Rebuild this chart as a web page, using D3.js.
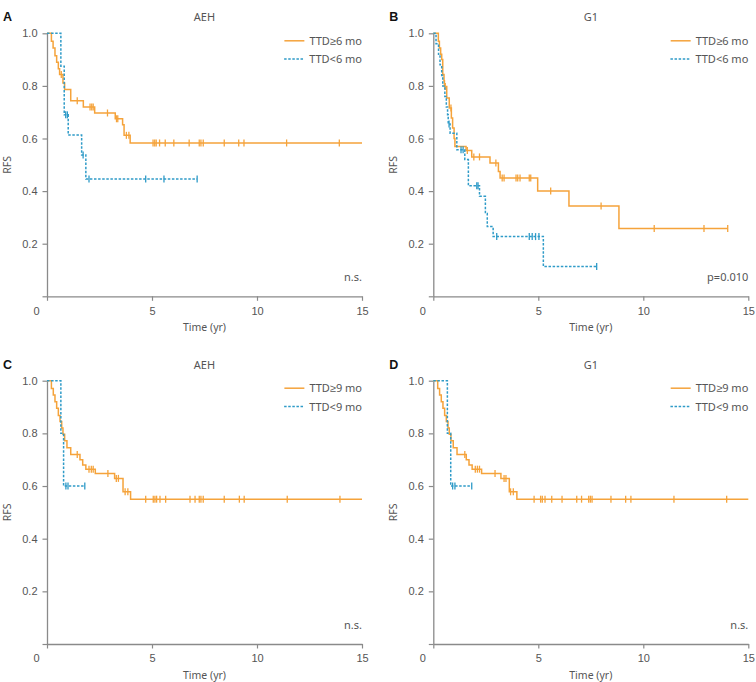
<!DOCTYPE html>
<html><head><meta charset="utf-8">
<script src="https://cdn.jsdelivr.net/npm/d3@7"></script>
<style>
body{margin:0;background:#fff;}
svg{display:block;}
</style></head>
<body><svg id="c" width="756" height="682"></svg>
<script>
// ---------- data ----------
const xTicks = [0, 5, 10, 15];
const yTicks = [0, 0.2, 0.4, 0.6, 0.8, 1.0];
const panelLetters = ["A", "B", "C", "D"];
const panelTitles = ["AEH", "G1", "AEH", "G1"];
const legendHigh = ["TTD\u22656 mo", "TTD\u22656 mo", "TTD\u22659 mo", "TTD\u22659 mo"];
const legendLow = ["TTD<6 mo", "TTD<6 mo", "TTD<9 mo", "TTD<9 mo"];
const pLabels = ["n.s.", "p=0.010", "n.s.", "n.s."];

// Panel A
const aHighTime = [0.21, 0.29, 0.38, 0.46, 0.54, 0.6, 0.76, 0.84, 1.13, 1.73, 2.27, 3.25, 3.6, 3.67, 3.96];
const aHighSurv = [0.97, 0.944, 0.915, 0.89, 0.865, 0.843, 0.811, 0.786, 0.744, 0.72, 0.697, 0.675, 0.652, 0.612, 0.583];
const aHighCensor = [0.68, 1.44, 2.05, 2.13, 2.2, 2.88, 3.31, 3.37, 3.78, 3.9, 5.05, 5.13, 5.2, 5.36, 5.63, 6.04, 6.77, 7.25, 7.33, 7.44, 8.44, 9.13, 9.38, 11.41, 13.92];
const aHighEnd = 15;
const aLowTime = [0.66, 0.82, 1.01, 1.65, 1.85];
const aLowSurv = [0.875, 0.69, 0.613, 0.537, 0.446];
const aLowCensor = [0.89, 0.97, 1.72, 2.0, 4.7, 5.57, 7.15];
const aLowEnd = 7.15;

// Panel B
const bHighTime = [0.24, 0.29, 0.35, 0.4, 0.45, 0.51, 0.53, 0.64, 0.76, 0.86, 0.92, 0.99, 1.03, 1.56, 1.83, 2.7, 3.1, 3.18, 4.97, 6.46, 8.84];
const bHighSurv = [0.97, 0.944, 0.92, 0.9, 0.843, 0.82, 0.798, 0.754, 0.716, 0.678, 0.64, 0.6, 0.57, 0.554, 0.53, 0.507, 0.475, 0.45, 0.4, 0.343, 0.258];
const bHighCensor = [0.57, 0.84, 1.62, 1.93, 2.2, 2.98, 3.28, 3.37, 3.94, 4.02, 4.13, 4.57, 4.64, 5.59, 7.99, 10.52, 12.89, 14.02];
const bHighEnd = 14.02;
const bLowTime = [0.13, 0.25, 0.32, 0.4, 0.45, 0.55, 0.62, 0.68, 0.71, 0.8, 1.12, 1.5, 1.67, 2.2, 2.48, 2.57, 2.85, 5.24];
const bLowSurv = [0.96, 0.92, 0.88, 0.84, 0.8, 0.76, 0.72, 0.69, 0.655, 0.62, 0.557, 0.52, 0.42, 0.38, 0.315, 0.265, 0.227, 0.113];
const bLowCensor = [0.75, 1.32, 1.42, 2.07, 2.13, 3.02, 4.57, 4.71, 4.87, 5.03, 7.78];
const bLowEnd = 7.78;

// Panel C
const cHighTime = [0.21, 0.3, 0.38, 0.46, 0.54, 0.62, 0.7, 0.76, 0.84, 0.95, 1.13, 1.57, 1.7, 1.85, 2.3, 3.22, 3.62, 3.98];
const cHighSurv = [0.97, 0.946, 0.92, 0.895, 0.868, 0.845, 0.82, 0.797, 0.772, 0.745, 0.72, 0.7, 0.68, 0.664, 0.648, 0.629, 0.578, 0.55];
const cHighCensor = [1.44, 2.0, 2.11, 2.2, 2.9, 3.3, 3.4, 3.72, 3.85, 4.7, 5.06, 5.14, 5.22, 5.38, 5.65, 6.81, 7.05, 7.25, 7.33, 7.44, 8.44, 9.16, 9.39, 11.44, 13.95];
const cHighEnd = 15;
const cLowTime = [0.66, 0.79];
const cLowSurv = [0.8, 0.6];
const cLowCensor = [0.9, 1.0, 1.8];
const cLowEnd = 1.8;

// Panel D
const dHighTime = [0.21, 0.3, 0.38, 0.46, 0.54, 0.62, 0.7, 0.76, 0.84, 0.95, 1.13, 1.57, 1.7, 1.85, 2.3, 3.22, 3.62, 3.98];
const dHighSurv = [0.97, 0.946, 0.92, 0.895, 0.868, 0.845, 0.82, 0.797, 0.772, 0.745, 0.72, 0.7, 0.68, 0.664, 0.648, 0.629, 0.578, 0.55];
const dHighCensor = [1.5, 2.0, 2.1, 2.2, 2.94, 3.37, 3.46, 3.68, 3.81, 4.8, 5.11, 5.19, 5.32, 5.64, 6.13, 6.83, 7.06, 7.4, 7.48, 7.56, 8.46, 9.16, 9.41, 11.46, 13.97];
const dHighEnd = 15;
const dLowTime = [0.67, 0.83];
const dLowSurv = [0.8, 0.6];
const dLowCensor = [0.92, 1.03, 1.83];
const dLowEnd = 1.83;

// ---------- layout ----------
const COL_ORANGE = "#f5a33b";
const COL_BLUE = "#2f9bc8";
const AXIS_COL = "#8a8a8a";
const TEXT_COL = "#555";

const panels = [
  {x0: 47, x1: 362, yTop: 33.3, yBot: 296.3,
   high: {t: aHighTime, s: aHighSurv, c: aHighCensor, end: aHighEnd},
   low: {t: aLowTime, s: aLowSurv, c: aLowCensor, end: aLowEnd}},
  {x0: 433.3, x1: 748.3, yTop: 33.3, yBot: 296.3,
   high: {t: bHighTime, s: bHighSurv, c: bHighCensor, end: bHighEnd},
   low: {t: bLowTime, s: bLowSurv, c: bLowCensor, end: bLowEnd}},
  {x0: 47, x1: 362, yTop: 380.7, yBot: 644,
   high: {t: cHighTime, s: cHighSurv, c: cHighCensor, end: cHighEnd},
   low: {t: cLowTime, s: cLowSurv, c: cLowCensor, end: cLowEnd}},
  {x0: 433.3, x1: 748.3, yTop: 380.7, yBot: 644,
   high: {t: dHighTime, s: dHighSurv, c: dHighCensor, end: dHighEnd},
   low: {t: dLowTime, s: dLowSurv, c: dLowCensor, end: dLowEnd}}
];

const svg = d3.select("#c");
const tickFont = "'Liberation Sans', Arial, sans-serif";
const labFont = "'Noto Sans', 'Liberation Sans', sans-serif";

function survAt(curve, time) {
  let v = 1;
  for (let i = 0; i < curve.t.length; i++) if (curve.t[i] <= time) v = curve.s[i];
  return v;
}

panels.forEach((p, i) => {
  const g = svg.append("g");
  const x = d3.scaleLinear().domain([0, 15]).range([p.x0, p.x1]);
  const y = d3.scaleLinear().domain([0, 1]).range([p.yBot, p.yTop]);

  // y axis
  const ya = g.append("g").attr("transform", `translate(${p.x0},0)`)
    .call(d3.axisLeft(y).tickValues(yTicks).tickSize(4.5).tickSizeOuter(0).tickPadding(5)
      .tickFormat(d => d === 0 ? "" : d3.format(".1f")(d)));
  // x axis
  const xa = g.append("g").attr("transform", `translate(0,${p.yBot})`)
    .call(d3.axisBottom(x).tickValues(xTicks).tickSize(4.5).tickSizeOuter(0).tickPadding(6)
      .tickFormat(d3.format("d")));
  [ya, xa].forEach(a => {
    a.select(".domain").attr("stroke", AXIS_COL).attr("stroke-width", 1.3);
    a.selectAll(".tick line").attr("stroke", AXIS_COL).attr("stroke-width", 1.2);
    a.selectAll(".tick text").attr("fill", TEXT_COL).style("font-family", tickFont).style("font-size", "11px");
  });
  xa.selectAll(".tick text").filter(d => d === 0).attr("dx", -11);

  // axis titles
  g.append("text").attr("x", (p.x0 + p.x1) / 2).attr("y", p.yBot + 35)
    .attr("text-anchor", "middle").attr("fill", TEXT_COL)
    .style("font-family", labFont).style("font-size", "10.5px").text("Time (yr)");
  g.append("text").attr("transform", `translate(${p.x0 - 36},${(p.yTop + p.yBot) / 2}) rotate(-90)`)
    .attr("text-anchor", "middle").attr("fill", TEXT_COL)
    .style("font-family", labFont).style("font-size", "10.5px").text("RFS");

  // panel letter & title
  g.append("text").attr("x", p.x0 - 44).attr("y", p.yTop - 12)
    .attr("fill", "#111").style("font-family", tickFont).style("font-weight", "bold").style("font-size", "12.5px")
    .text(panelLetters[i]);
  g.append("text").attr("x", (p.x0 + p.x1) / 2).attr("y", p.yTop - 12)
    .attr("text-anchor", "middle").attr("fill", TEXT_COL)
    .style("font-family", labFont).style("font-size", "11px").text(panelTitles[i]);

  // curves
  const line = d3.line().x(d => x(d[0])).y(d => y(d[1])).curve(d3.curveStepAfter);
  const drawCurve = (curve, color, dash) => {
    const pts = [[0, 1]];
    curve.t.forEach((t, k) => pts.push([t, curve.s[k]]));
    pts.push([curve.end, curve.s[curve.s.length - 1]]);
    g.append("path").datum(pts).attr("d", line).attr("fill", "none")
      .attr("stroke", color).attr("stroke-width", 1.5)
      .attr("stroke-dasharray", dash || null);
    g.append("g").selectAll("line").data(curve.c).join("line")
      .attr("x1", d => x(d)).attr("x2", d => x(d))
      .attr("y1", d => y(survAt(curve, d)) - 3.5).attr("y2", d => y(survAt(curve, d)) + 3.5)
      .attr("stroke", color).attr("stroke-width", 1.3);
  };
  drawCurve(p.high, COL_ORANGE, null);
  drawCurve(p.low, COL_BLUE, "2.5,1.6");

  // legend
  const rows = [[legendHigh[i], COL_ORANGE, null], [legendLow[i], COL_BLUE, "2.5,1.6"]];
  rows.forEach((r, k) => {
    const yy = p.yTop + 7.5 + k * 18.3;
    const t = g.append("text").attr("x", p.x1).attr("y", yy + 4).attr("text-anchor", "end")
      .attr("fill", TEXT_COL).style("font-family", labFont).style("font-size", "11px").text(r[0]);
    const w = t.node().getComputedTextLength();
    g.append("line").attr("x1", p.x1 - w - 25).attr("x2", p.x1 - w - 5)
      .attr("y1", yy).attr("y2", yy).attr("stroke", r[1]).attr("stroke-width", 1.5)
      .attr("stroke-dasharray", r[2]);
  });

  // p-value
  g.append("text").attr("x", p.x1).attr("y", p.yBot - 15.5).attr("text-anchor", "end")
    .attr("fill", TEXT_COL).style("font-family", labFont).style("font-size", "11px").text(pLabels[i]);
});
</script></body></html>
